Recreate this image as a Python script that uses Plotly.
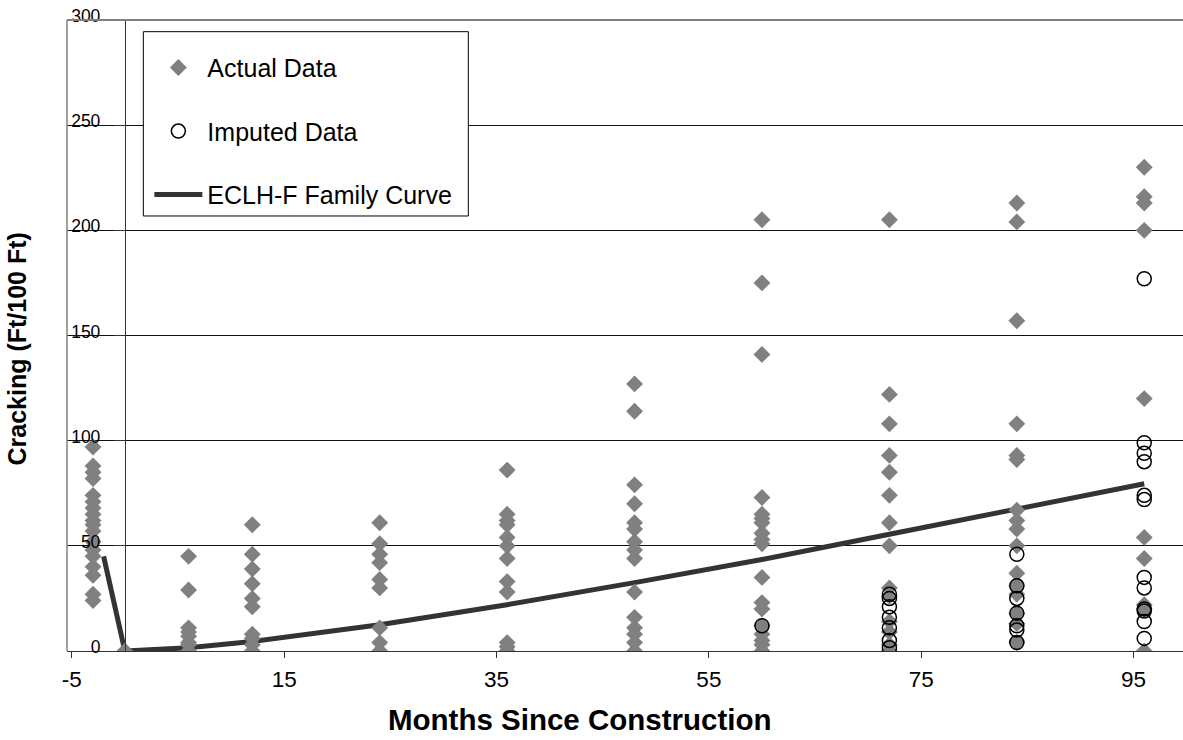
import plotly.graph_objects as go

# ---- data: cracking (ft/100 ft) by months since construction ----
actual_months = [-3, 0, 6, 12, 24, 36, 48, 60, 72, 84, 96]
actual_values = [
    [97, 88, 85, 82, 74, 71, 68, 65, 62, 60, 57, 52, 48, 45, 40, 36, 27, 24],
    [0],
    [45, 29, 11, 9, 7, 4, 3, 0],
    [60, 46, 39, 32, 25, 21, 8, 6, 3, 0],
    [61, 51, 46, 42, 34, 30, 11, 4, 0],
    [86, 65, 62, 60, 54, 50, 44, 33, 28, 4, 2, 0],
    [127, 114, 79, 70, 61, 58, 52, 48, 44, 28, 16, 11, 8, 4, 0],
    [205, 175, 141, 73, 65, 63, 61, 56, 53, 51, 35, 23, 20, 12, 8, 5, 3, 0],
    [205, 122, 108, 93, 85, 74, 61, 50, 30, 26, 14, 9, 3, 0],
    [213, 204, 157, 108, 93, 91, 67, 62, 58, 50, 37, 31, 27, 18, 13, 4],
    [230, 216, 213, 200, 120, 54, 44, 22, 20, 0],
]

imputed_months = [60, 72, 84, 96]
imputed_values = [
    [12],
    [27, 25, 21, 16, 11, 5, 1.5],
    [46, 31, 25, 18, 12, 10, 4],
    [177, 99, 94, 90, 74, 72, 35, 30, 20, 19, 14, 6],
]

curve_months = [-2, 0, 6, 12, 24, 36, 48, 60, 72, 84, 96]
curve_values = [45, 0, 1.5, 4.5, 12.5, 22, 32.5, 43.5, 55.5, 67.5, 79.5]

x_ticks = [-5, 15, 35, 55, 75, 95]
x_tick_text = ["-5", "15", "35", "55", "75", "95"]
y_ticks = [0, 50, 100, 150, 200, 250, 300]
x_range = [-5.45, 99.65]
y_range = [0, 300]

FONT = "Liberation Sans, Arial, sans-serif"


def flatten(months, groups):
    xs, ys = [], []
    for m, vals in zip(months, groups):
        xs.extend([m] * len(vals))
        ys.extend(vals)
    return xs, ys


ax, ay = flatten(actual_months, actual_values)
ix, iy = flatten(imputed_months, imputed_values)

fig = go.Figure()

fig.add_trace(go.Scatter(
    x=curve_months, y=curve_values, mode="lines",
    name="ECLH-F Family Curve", legendgroup="c", legendrank=3,
    line=dict(color="#333333", width=5),
))
fig.add_trace(go.Scatter(
    x=ax, y=ay, mode="markers",
    name="Actual Data", legendgroup="a", legendrank=1,
    marker=dict(symbol="diamond", size=13, color="#808080", line=dict(width=0)),
))
fig.add_trace(go.Scatter(
    x=ix, y=iy, mode="markers",
    name="Imputed Data", legendgroup="b", legendrank=2,
    marker=dict(symbol="circle-open", size=14, color="#000000", line=dict(width=1.5)),
))

# y axis crosses the x axis at month 0
y_axis_pos = (0 - x_range[0]) / (x_range[1] - x_range[0])

fig.update_layout(
    width=1183, height=740,
    margin=dict(l=67, r=0, t=20, b=89),
    paper_bgcolor="white", plot_bgcolor="white",
    font=dict(family=FONT, color="#000000"),
    showlegend=True,
    legend=dict(
        x=0.0738, y=0.9607, xanchor="left", yanchor="top",
        bgcolor="rgba(0,0,0,0)", borderwidth=0,
        font=dict(size=25, family=FONT),
        itemwidth=48, tracegroupgap=28, traceorder="grouped",
    ),
    xaxis=dict(
        range=x_range, tickvals=x_ticks, ticktext=x_tick_text,
        ticks="outside", ticklen=6,
        tickcolor="#333333", showline=True, linecolor="#333333", linewidth=1,
        showgrid=False, zeroline=False,
        tickfont=dict(size=22.5, family=FONT), ticklabelstandoff=2,
    ),
    yaxis=dict(
        range=y_range, tickvals=y_ticks, anchor="free", position=y_axis_pos,
        ticks="outside", ticklen=11, tickcolor="#333333",
        showline=True, linecolor="#333333", linewidth=1,
        showgrid=True, gridcolor="#111111", gridwidth=1, zeroline=False,
        tickfont=dict(size=17.5, family=FONT),
        ticklabelshift=-4, ticklabelstandoff=10,
    ),
    shapes=[
        # plot-area border (left and top)
        dict(type="line", xref="paper", yref="paper", x0=0, x1=0, y0=0, y1=1,
             line=dict(color="#808080", width=1.5), layer="above"),
        dict(type="line", xref="paper", yref="paper", x0=0, x1=1, y0=1, y1=1,
             line=dict(color="#808080", width=2), layer="above"),
        # legend frame
        dict(type="rect", xref="paper", yref="paper",
             x0=0.0684, x1=0.3596, y0=0.6894, y1=0.9815,
             line=dict(color="#000000", width=1), fillcolor="white", layer="above"),
    ],
    annotations=[
        dict(text="<b>Months Since Construction</b>", xref="paper", yref="paper",
             x=0.4597, y=-0.1078, xanchor="center", yanchor="middle",
             showarrow=False, font=dict(size=29.5, family=FONT)),
        dict(text="<b>Cracking (Ft/100 Ft)</b>", xref="paper", yref="paper",
             x=-0.0448, y=0.4778, xanchor="center", yanchor="middle", textangle=-90,
             showarrow=False, font=dict(size=25, family=FONT)),
    ],
)

fig.write_html("out.html")
